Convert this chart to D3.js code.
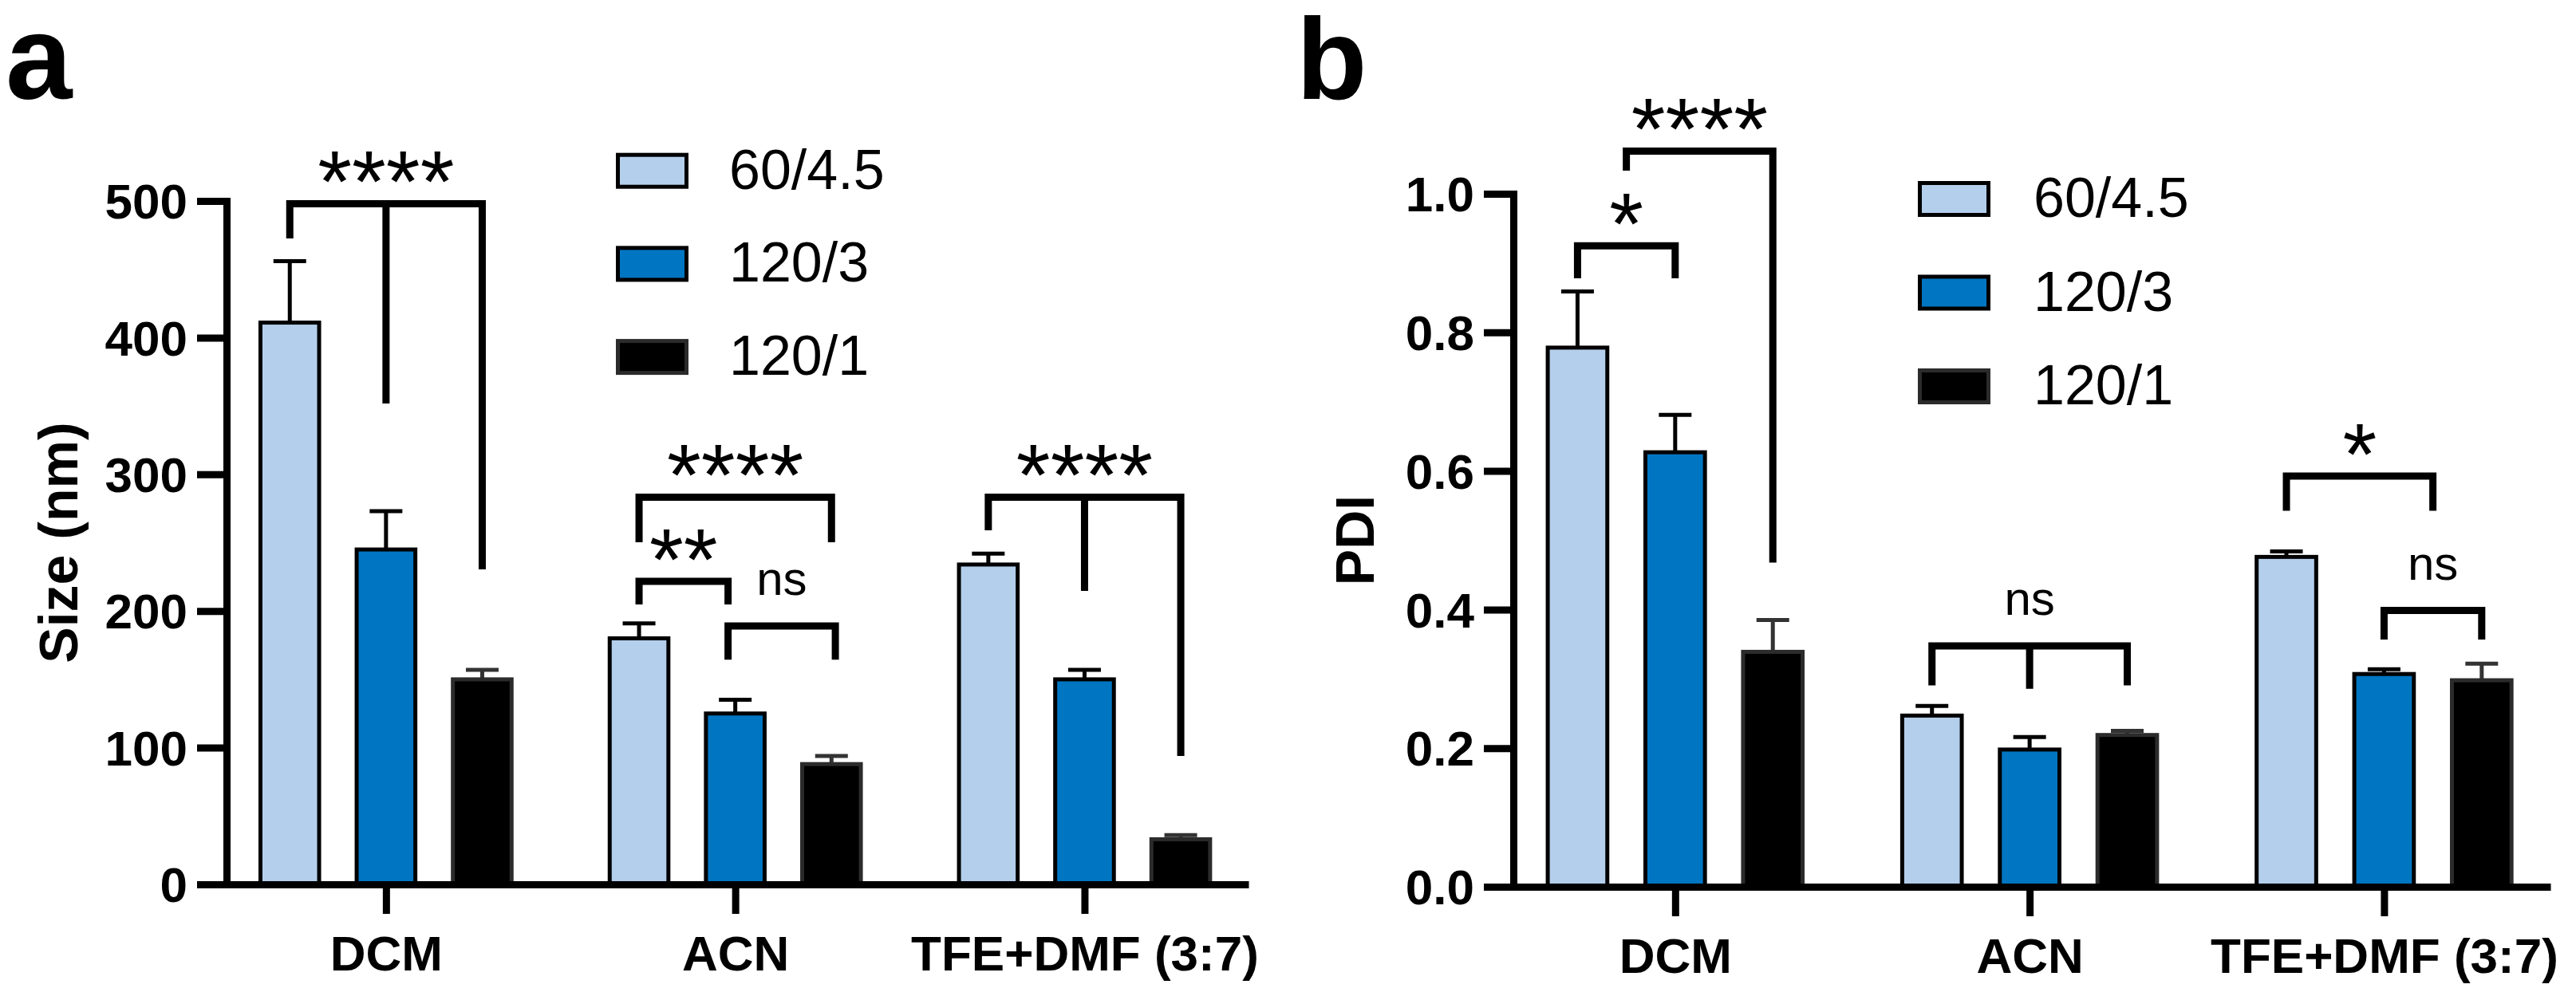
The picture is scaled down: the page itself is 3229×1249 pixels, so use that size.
<!DOCTYPE html>
<html><head><meta charset="utf-8">
<script src="https://cdn.jsdelivr.net/npm/d3@7"></script>
<style>html,body{margin:0;padding:0;background:#fff;} svg{display:block;}</style>
</head><body>
<svg id="chart" width="3229" height="1249"></svg>
<script>
// ---------- data ----------
const categories = ["DCM", "ACN", "TFE+DMF (3:7)"];
const seriesNames = ["60/4.5", "120/3", "120/1"];
const seriesColors = ["#b4cfec", "#0076c2", "#000000"];

const sizeTicks = [0, 100, 200, 300, 400, 500];
const pdiTicks = [0.0, 0.2, 0.4, 0.6, 0.8, 1.0];

// Size (nm): mean values per category, one array per series
const size_60_45 = [411, 180, 234];
const size_120_3 = [245, 125, 150];
const size_120_1 = [150, 88, 33];
// upper error (SD) per category
const sizeErr_60_45 = [45, 11, 8];
const sizeErr_120_3 = [28, 10, 7];
const sizeErr_120_1 = [7, 6, 3];

// PDI
const pdi_60_45 = [0.778, 0.247, 0.476];
const pdi_120_3 = [0.627, 0.198, 0.307];
const pdi_120_1 = [0.339, 0.219, 0.298];
const pdiErr_60_45 = [0.081, 0.014, 0.008];
const pdiErr_120_3 = [0.054, 0.018, 0.007];
const pdiErr_120_1 = [0.046, 0.006, 0.024];

// significance brackets: category index, leg positions (in bar slots), leg end values, bar top value, label
const sizeBrackets = [
  {cat: 0, legs: [-1, 0, 1], ends: [472.6, 351.8, 230.5], top: 498, label: "****"},
  {cat: 1, legs: [-1, 1], ends: [250.3, 250.3], top: 283.3, label: "****"},
  {cat: 1, legs: [-1, -0.075], ends: [204.8, 204.8], top: 221.7, label: "**"},
  {cat: 1, legs: [-0.075, 1.04], ends: [164.4, 164.4], top: 189, label: "ns"},
  {cat: 2, legs: [-1, 0, 1], ends: [259, 214.7, 94], top: 283.3, label: "****"}
];
const pdiBrackets = [
  {cat: 0, legs: [-1, 0], ends: [0.878, 0.878], top: 0.925, label: "*"},
  {cat: 0, legs: [-0.5, 1], ends: [1.0334, 0.4678], top: 1.0616, label: "****"},
  {cat: 1, legs: [-1, 0, 1], ends: [0.2906, 0.2857, 0.2906], top: 0.3475, label: "ns"},
  {cat: 2, legs: [-1, 0.5], ends: [0.5426, 0.5426], top: 0.5926, label: "*"},
  {cat: 2, legs: [0, 1], ends: [0.3567, 0.3567], top: 0.3986, label: "ns"}
];

// ---------- layout ----------
const FONT = "Arial, 'Liberation Sans', sans-serif";
const svg = d3.select("#chart");

const panels = [
  {
    letter: "a", letterX: 7, letterSize: 150,
    title: "Size (nm)", titleX: 97,
    means: [size_60_45, size_120_3, size_120_1],
    errs: [sizeErr_60_45, sizeErr_120_3, sizeErr_120_1],
    ticks: sizeTicks, fmt: d3.format("d"), domain: [0, 500],
    axisX: 284, endX: 1565, y0: 1109, y1: 252,
    legendX: 772, legendY: 191.7, legendStep: 116.7, legendTextX: 914,
    brackets: sizeBrackets
  },
  {
    letter: "b", letterX: 1625, letterSize: 145,
    title: "PDI", titleX: 1722,
    means: [pdi_60_45, pdi_120_3, pdi_120_1],
    errs: [pdiErr_60_45, pdiErr_120_3, pdiErr_120_1],
    ticks: pdiTicks, fmt: d3.format(".1f"), domain: [0, 1],
    axisX: 1897, endX: 3197, y0: 1112, y1: 243,
    legendX: 2404, legendY: 227, legendStep: 117.5, legendTextX: 2549,
    brackets: pdiBrackets
  }
];

panels.forEach(drawPanel);

function drawPanel(p) {
  const g = svg.append("g");
  const y = d3.scaleLinear().domain(p.domain).range([p.y0, p.y1]);
  const x = d3.scalePoint().domain(categories).range([p.axisX, p.endX]).padding(0.463).align(0.493);
  const bs = x.step() * 0.2755;
  const sub = d3.scaleBand().domain(seriesNames).range([-1.5 * bs, 1.5 * bs]).paddingInner(0.39).paddingOuter(0.195);
  const bw = sub.bandwidth();
  const cxOf = (s, c) => x(c) + sub(s) + bw / 2;

  // bars + error bars
  seriesNames.forEach((s, si) => {
    const stroke = si === 2 ? "#2b2b2b" : "#000";
    const errCol = si === 2 ? "#333" : "#000";
    const rows = categories.map((c, ci) => ({c, v: p.means[si][ci], e: p.errs[si][ci]}));
    g.append("g").selectAll("path").data(rows).join("path")
      .attr("d", d => {
        const cx = cxOf(s, d.c), yt = y(d.v + d.e);
        return `M${cx},${y(d.v)}V${yt}M${cx - 20.5},${yt}H${cx + 20.5}`;
      })
      .attr("fill", "none").attr("stroke", errCol).attr("stroke-width", 5);
    g.append("g").selectAll("rect").data(rows).join("rect")
      .attr("x", d => cxOf(s, d.c) - bw / 2)
      .attr("y", d => y(d.v))
      .attr("width", bw)
      .attr("height", d => y(0) - y(d.v))
      .attr("fill", seriesColors[si])
      .attr("stroke", stroke).attr("stroke-width", 5);
  });

  // y axis
  const ya = g.append("g").attr("transform", `translate(${p.axisX},0)`)
    .call(d3.axisLeft(y).tickValues(p.ticks).tickFormat(p.fmt).tickSize(37).tickSizeOuter(0).tickPadding(12));
  ya.select(".domain").attr("stroke-width", 9).attr("stroke-linecap", "square").attr("stroke", "#000");
  ya.selectAll(".tick line").attr("stroke-width", 9).attr("stroke", "#000");
  ya.selectAll(".tick text").attr("font-family", FONT).attr("font-weight", "bold")
    .attr("font-size", 62).attr("fill", "#000").attr("dy", "0.35em");

  // x axis
  const xa = g.append("g").attr("transform", `translate(0,${p.y0})`)
    .call(d3.axisBottom(x).tickSize(37).tickSizeOuter(0));
  xa.select(".domain").attr("stroke-width", 9).attr("stroke", "#000");
  xa.selectAll(".tick line").attr("stroke-width", 9).attr("stroke", "#000");
  xa.selectAll(".tick text").attr("font-family", FONT).attr("font-weight", "bold")
    .attr("font-size", 62).attr("fill", "#000").attr("y", 108).attr("dy", 0);

  // axis title
  g.append("text")
    .attr("transform", `translate(${p.titleX},${(p.y0 + p.y1) / 2}) rotate(-90)`)
    .attr("text-anchor", "middle").attr("font-family", FONT).attr("font-weight", "bold")
    .attr("font-size", 68).text(p.title);

  // panel letter
  g.append("text").attr("x", p.letterX).attr("y", 124)
    .attr("font-family", FONT).attr("font-weight", "bold").attr("font-size", p.letterSize).text(p.letter);

  // legend
  const lg = g.append("g");
  seriesNames.forEach((s, si) => {
    const ly = p.legendY + si * p.legendStep;
    lg.append("rect").attr("x", p.legendX + 2.5).attr("y", ly + 2.5).attr("width", 86).attr("height", 40)
      .attr("fill", seriesColors[si]).attr("stroke", si === 2 ? "#2b2b2b" : "#000").attr("stroke-width", 5);
    lg.append("text").attr("x", p.legendTextX).attr("y", ly + 45)
      .attr("font-family", FONT).attr("font-size", 70).text(s);
  });

  // significance brackets
  const bg = g.append("g");
  p.brackets.forEach(b => {
    const cx0 = x(categories[b.cat]);
    const xs = b.legs.map(l => cx0 + l * sub.step());
    const yt = y(b.top);
    const n = xs.length;
    let d = `M${xs[0]},${y(b.ends[0])}V${yt}H${xs[n - 1]}V${y(b.ends[n - 1])}`;
    for (let i = 1; i < n - 1; i++) d += `M${xs[i]},${yt}V${y(b.ends[i])}`;
    bg.append("path").attr("d", d).attr("fill", "none").attr("stroke", "#000")
      .attr("stroke-width", 9).attr("stroke-linejoin", "miter").attr("stroke-linecap", "butt");
    const mid = (xs[0] + xs[n - 1]) / 2;
    const isNs = b.label === "ns";
    bg.append("text").attr("x", mid).attr("y", isNs ? yt - 39 : yt + 10)
      .attr("text-anchor", "middle").attr("font-family", FONT)
      .attr("font-size", isNs ? 60 : 110).text(b.label);
  });
}
</script>
</body></html>
